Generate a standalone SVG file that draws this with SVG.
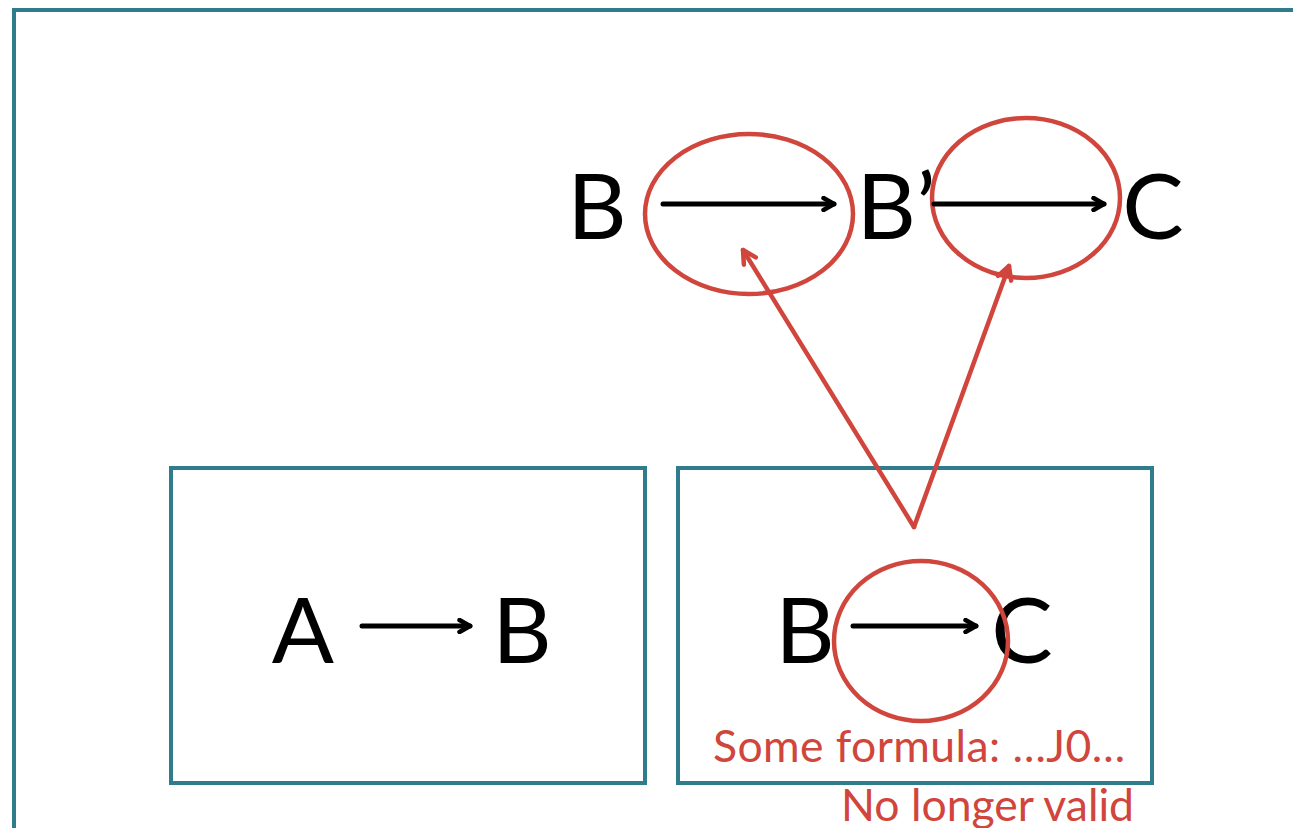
<svg xmlns="http://www.w3.org/2000/svg" width="1293" height="828" viewBox="0 0 1293 828">
<defs>
<style>
.frame{fill:none;stroke:#2F7D8C;stroke-width:4}
.big{font-family:Lato,"Liberation Sans",sans-serif;font-size:92px;fill:#000;text-anchor:middle}
.red{font-family:Lato,"Liberation Sans",sans-serif;font-size:44.5px;fill:#D0453C}
.blk{stroke:#000;stroke-width:5;fill:none;stroke-linecap:round}
.rl{stroke:#D0453C;stroke-width:4.5;fill:none;stroke-linecap:round;stroke-linejoin:round}
</style>
<marker id="ab" viewBox="0 0 16 16" refX="13.5" refY="8" markerWidth="16" markerHeight="16" markerUnits="userSpaceOnUse" orient="auto">
<path d="M3,2 L13.5,8 L3,14" fill="none" stroke="#000" stroke-width="4.5" stroke-linecap="round" stroke-linejoin="round"/>
</marker>
<marker id="ar" viewBox="0 0 20 20" refX="17" refY="10" markerWidth="20" markerHeight="20" markerUnits="userSpaceOnUse" orient="auto">
<path d="M4,3 L17,10 L4,17" fill="none" stroke="#D0453C" stroke-width="4.5" stroke-linecap="round" stroke-linejoin="round"/>
</marker>
</defs>
<rect width="1293" height="828" fill="#fff"/>
<g id="outer-frame"><path class="frame" d="M14,840 L14,10 L1300,10"/></g>
<g id="box-left">
<rect class="frame" x="171" y="468" width="474" height="315"/>
<text class="big" x="303" y="663">A</text>
<text class="big" x="522" y="663">B</text>
</g>
<g id="box-right">
<rect class="frame" x="678" y="468" width="474" height="315"/>
<text class="big" x="805" y="663">B</text>
<text class="big" x="1022" y="663">C</text>
<ellipse class="rl" cx="921" cy="641" rx="87" ry="80"/>
<text class="red" x="713" y="762" textLength="412" lengthAdjust="spacing">Some formula: …J0…</text>
<text class="red" x="841" y="821">No longer valid</text>
</g>
<g id="top-row">
<text class="big" x="597" y="239">B</text>
<text class="big" x="896" y="239">B’</text>
<text class="big" x="1153" y="239">C</text>
<ellipse class="rl" cx="749" cy="214" rx="104" ry="80"/>
<ellipse class="rl" cx="1026" cy="198" rx="94" ry="80"/>
</g>
<g id="connectors">
<line class="blk" x1="362" y1="626" x2="470" y2="626" marker-end="url(#ab)"/>
<line class="blk" x1="853" y1="626" x2="976" y2="626" marker-end="url(#ab)"/>
<line class="blk" x1="663" y1="204" x2="834" y2="204" marker-end="url(#ab)"/>
<line class="blk" x1="934" y1="204" x2="1104" y2="204" marker-end="url(#ab)"/>
<path class="rl" d="M914,527 L743,250" marker-end="url(#ar)"/>
<path class="rl" d="M914,527 L1009,266" marker-end="url(#ar)"/>
</g>
</svg>
